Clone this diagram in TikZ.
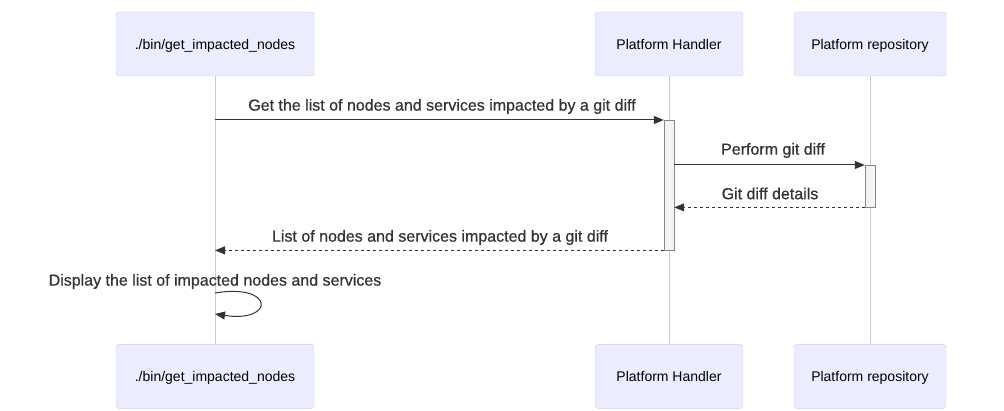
\documentclass[tikz,border=0pt]{standalone}
\usepackage{fontspec}
\setmainfont{Liberation Sans}
\newfontfamily\msgfont[FakeBold=0.6]{Liberation Sans}
\usetikzlibrary{arrows.meta,positioning}

\definecolor{actorfill}{HTML}{ECECFF}
\definecolor{actorline}{HTML}{D3CBF0}
\definecolor{lifegray}{HTML}{CCCCCC}
\definecolor{inkgray}{HTML}{333333}
\definecolor{actfill}{HTML}{F4F4F4}
\definecolor{actline}{HTML}{888888}

\begin{document}
\begin{tikzpicture}[
        x=1pt, y=-1pt,
        actor/.style={
            rectangle,
            draw=actorline,
            fill=actorfill,
            rounded corners=3pt,
            minimum height=64pt,
            text height=11pt,
            text depth=0pt,
            text=black,
            font=\fontsize{14pt}{16pt}\selectfont
        },
        lifeline/.style={draw=lifegray, line width=0.8pt},
        activation/.style={
            rectangle,
            draw=actline,
            fill=actfill,
            minimum width=10pt,
            inner sep=0pt
        },
        msgtext/.style={text=inkgray, font=\msgfont\fontsize{16pt}{18pt}\selectfont},
        msg/.style={draw=inkgray, line width=1pt, -{Triangle[length=10pt,width=8pt]}},
        reply/.style={msg, dash pattern=on 3pt off 3pt}
    ]
        % -- Bounding box --
        \useasboundingbox (0,0) rectangle (1004,411);

        % -- Actors (top) --
        \node [actor, minimum width=198pt] (cli) at (215,44) {./bin/get\_impacted\_nodes};
        \node [actor, minimum width=148pt] (handler) at (669,44) {Platform Handler};
        \node [actor, minimum width=152pt] (repo) at (870,44) {Platform repository};

        % -- Actors (bottom) --
        \node [actor, minimum width=198pt, below=268pt of cli] (cli_end) {./bin/get\_impacted\_nodes};
        \node [actor, minimum width=148pt, below=268pt of handler] (handler_end) {Platform Handler};
        \node [actor, minimum width=152pt, below=268pt of repo] (repo_end) {Platform repository};

        % -- Lifelines --
        \path [lifeline] (cli) -- (cli_end);
        \path [lifeline] (handler) -- (handler_end);
        \path [lifeline] (repo) -- (repo_end);

        % -- Activations --
        \node [activation, minimum height=130pt, anchor=north] (act_handler) at (669,120) {};
        \node [activation, minimum height=42pt, anchor=north] (act_repo) at (870,165) {};

        % -- Messages --
        \node [msgtext] (m_get) at (442,106.5) {Get the list of nodes and services impacted by a git diff};
        \path [msg] (cli.south |- act_handler.north) -- (act_handler.north west);

        \node [msgtext] (m_diff) at (773,150.5) {Perform git diff};
        \path [msg] (act_handler.east |- act_repo.north) -- (act_repo.north west);

        \node [msgtext] (m_details) at (770,193.5) {Git diff details};
        \path [reply] (act_repo.south west) -- (act_handler.east |- act_repo.south);

        \node [msgtext] (m_list) at (440,237.5) {List of nodes and services impacted by a git diff};
        \path [reply] (act_handler.south west) -- (cli.south |- act_handler.south);

        % -- Self message --
        \node [msgtext] (m_display) at (215,281.5) {Display the list of impacted nodes and services};
        \coordinate (loop_start) at (215,293);
        \coordinate (loop_end) at (215,314);
        \path [msg] (loop_start) .. controls (275,283) and (275,323) .. (loop_end);

    \end{tikzpicture}
\end{document}
